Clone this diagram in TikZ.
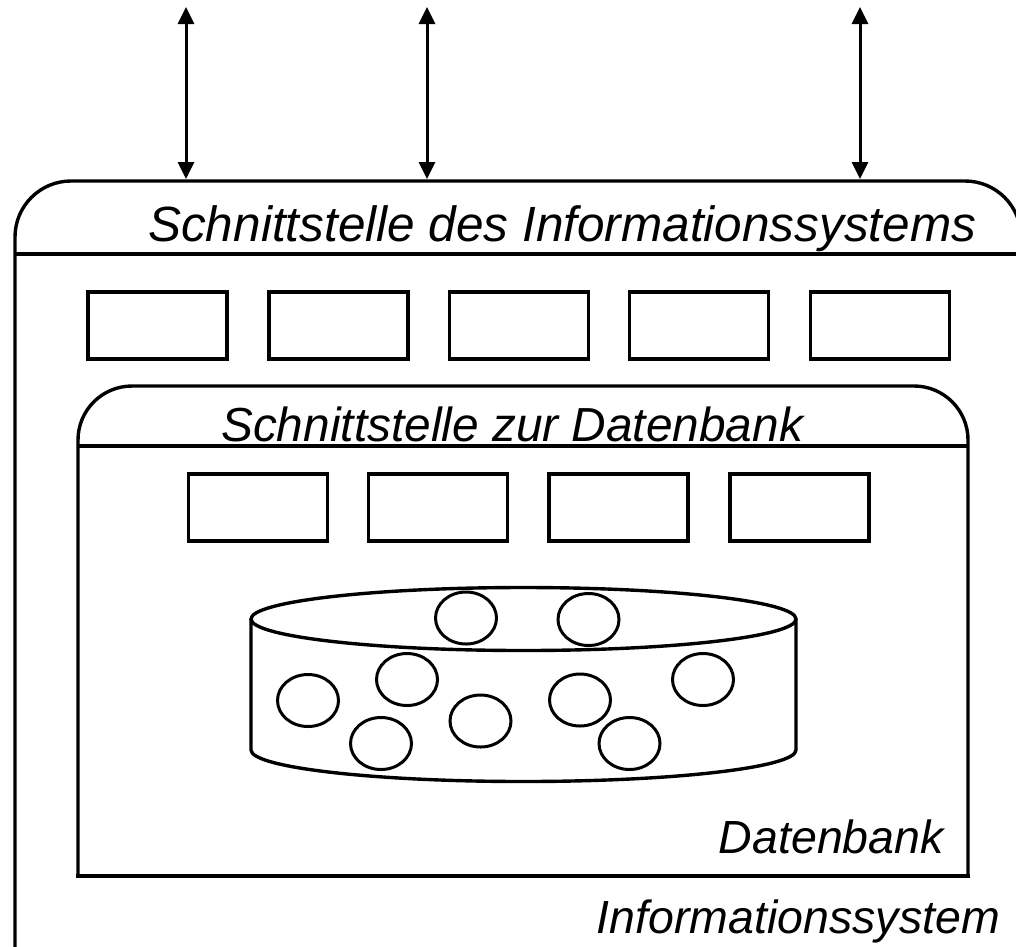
\documentclass[tikz,border=0pt]{standalone}
\usepackage{fontspec}
\setmainfont{Liberation Sans}
\usetikzlibrary{arrows.meta,shapes.geometric}

\tikzset{
  frameline/.style={line width=3.4pt, line join=round},
  modbox/.style={draw, line width=3.4pt, minimum width=139pt, minimum height=67pt, inner sep=0pt, outer sep=0pt},
  dataobj/.style={draw, ellipse, line width=3pt, minimum width=61pt, minimum height=52pt, inner sep=0pt},
  ioarrow/.style={line width=3pt, {Triangle[length=17pt,width=16pt]}-{Triangle[length=17pt,width=16pt]}},
  caption/.style={inner sep=0pt, font=\itshape}
}

\begin{document}
\begin{tikzpicture}[x=1pt, y=-1pt]
\useasboundingbox (0,0) rectangle (1016,946);
\clip (0,0) rectangle (1016,946);

% outer frame: information system
\draw[frameline, rounded corners=56pt] (15,990) -- (15,181) -- (1021,181) -- (1021,990);
\draw[frameline] (15,254) -- (1021,254);
\node[caption, anchor=base west, font=\itshape\fontsize{49.5}{58}\selectfont] (istitle) at (148,241) {Schnittstelle des Informationssystems};

% interface arrows
\foreach \i/\x in {1/186, 2/427, 3/860} {
  \coordinate (ext\i) at (\x,7);
  \coordinate (ifc\i) at (\x,179);
  \draw[ioarrow] (ext\i) -- (ifc\i);
}

% application modules
\foreach \i/\x in {1/157.5, 2/338.5, 3/519, 4/699, 5/880} {
  \node[modbox] (mod\i) at (\x,325.5) {};
}

% inner frame: database
\draw[frameline, rounded corners=54pt] (78,876) -- (78,386) -- (968,386) -- (968,876);
\draw[frameline, line cap=rect] (78,876) -- (968,876);
\draw[frameline] (78,446) -- (968,446);
\node[caption, anchor=base west, font=\itshape\fontsize{47.8}{56}\selectfont] (dbtitle) at (221,441) {Schnittstelle zur Datenbank};

% database access modules
\foreach \i/\x in {1/258, 2/438, 3/618.5, 4/799.5} {
  \node[modbox] (dbm\i) at (\x,507.5) {};
}

% data store (cylinder)
\draw[frameline] (523.5,619) ellipse [x radius=272.5pt, y radius=31.5pt];
\draw[frameline] (251,619) -- (251,750)
  arc [start angle=180, end angle=360, x radius=272.5pt, y radius=31.5pt]
  -- (796,619);

% stored objects
\foreach \i/\x/\y in {1/466/618, 2/588.5/619.5, 3/407/679.5, 4/308/700.5, 5/381/743.5,
                      6/480.5/721, 7/580/700, 8/629.5/743.5, 9/703/679.5} {
  \node[dataobj] (obj\i) at (\x,\y) {};
}

\node[caption, anchor=base east, font=\itshape\fontsize{46.5}{54}\selectfont] (dblabel) at (944,853) {Datenbank};
\node[caption, anchor=base east, font=\itshape\fontsize{46.5}{54}\selectfont] (islabel) at (1000,933) {Informationssystem};
\end{tikzpicture}
\end{document}
